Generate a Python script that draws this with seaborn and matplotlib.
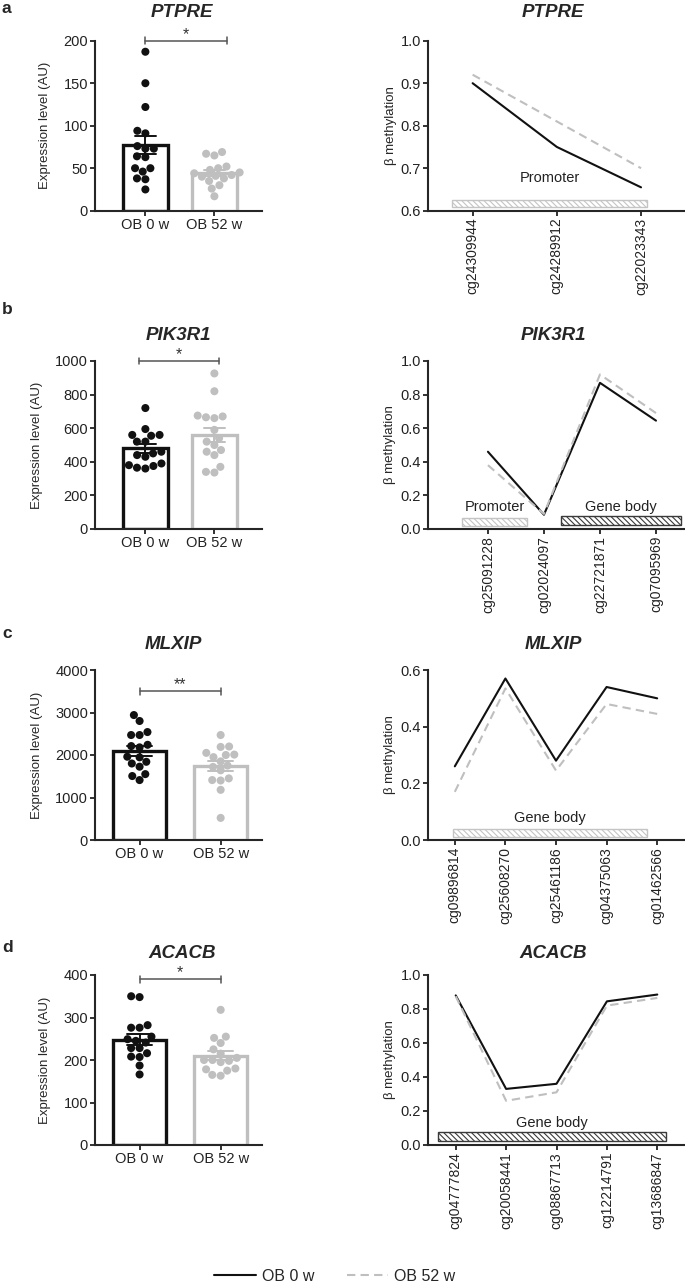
import numpy as np
import pandas as pd
import matplotlib
matplotlib.use('Agg')
import matplotlib.pyplot as plt
from matplotlib.patches import Rectangle
import seaborn as sns

# groups
groups = ['OB 0 w', 'OB 52 w']
genes = ['PTPRE', 'PIK3R1', 'MLXIP', 'ACACB']

# expression level (AU), one value per subject
ptpre_0w = [187, 150, 122, 94, 91, 76, 73, 73, 64, 63, 50, 50, 46, 38, 37, 25]
ptpre_52w = [69, 67, 65, 52, 50, 48, 45, 44, 42, 41, 40, 38, 35, 30, 26, 17]
pik3r1_0w = [720, 595, 560, 560, 555, 520, 520, 460, 450, 440, 430, 380, 375, 390, 365, 360]
pik3r1_52w = [926, 820, 675, 670, 665, 660, 590, 540, 520, 500, 470, 460, 440, 370, 340, 336]
mlxip_0w = [2940, 2800, 2540, 2470, 2470, 2240, 2210, 2180, 1960, 1945, 1840, 1800, 1725, 1550, 1505, 1410]
mlxip_52w = [2470, 2200, 2190, 2050, 2010, 2000, 1950, 1850, 1750, 1720, 1640, 1450, 1410, 1400, 1180, 520]
acacb_0w = [350, 348, 282, 276, 276, 255, 249, 245, 241, 228, 228, 216, 208, 207, 187, 166]
acacb_52w = [318, 255, 252, 240, 225, 215, 205, 200, 198, 200, 195, 180, 178, 175, 165, 163]

stars = ['*', '*', '**', '*']

# CpG probes and mean beta methylation
cg_ptpre = ['cg24309944', 'cg24289912', 'cg22023343']
meth_ptpre_0w = [0.90, 0.75, 0.655]
meth_ptpre_52w = [0.92, 0.81, 0.70]
cg_pik3r1 = ['cg25091228', 'cg02024097', 'cg22721871', 'cg07095969']
meth_pik3r1_0w = [0.46, 0.085, 0.87, 0.645]
meth_pik3r1_52w = [0.38, 0.09, 0.92, 0.69]
cg_mlxip = ['cg09896814', 'cg25608270', 'cg25461186', 'cg04375063', 'cg01462566']
meth_mlxip_0w = [0.26, 0.57, 0.28, 0.54, 0.50]
meth_mlxip_52w = [0.17, 0.535, 0.245, 0.48, 0.445]
cg_acacb = ['cg04777824', 'cg20058441', 'cg08867713', 'cg12214791', 'cg13686847']
meth_acacb_0w = [0.88, 0.33, 0.36, 0.845, 0.885]
meth_acacb_52w = [0.875, 0.26, 0.31, 0.82, 0.865]

# gene regions drawn under the lines: (label, first probe, last probe, dark?)
regions_ptpre = [('Promoter', -0.24, 2.07, False)]
regions_pik3r1 = [('Promoter', -0.46, 0.69, False), ('Gene body', 1.31, 3.45, True)]
regions_mlxip = [('Gene body', -0.04, 3.8, False)]
regions_acacb = [('Gene body', -0.35, 4.18, True)]

black = '#111111'
grey = '#bfbfbf'
pal = dict(zip(groups, [black, grey]))

sns.set_style('ticks')
plt.rcParams['font.family'] = ['Liberation Sans', 'DejaVu Sans']
plt.rcParams['axes.linewidth'] = 1.5
plt.rcParams['hatch.linewidth'] = 0.8

W, H = 685.0, 1284.0
fig = plt.figure(figsize=(W / 100, H / 100), dpi=100)


def px_axes(x0, top, x1, bottom):
    return fig.add_axes([x0 / W, 1 - bottom / H, (x1 - x0) / W, (bottom - top) / H])


def bar_panel(ax, v0, v52, ymax, ystep, xlim, bracket, ybr, star):
    df = pd.DataFrame({'group': [groups[0]] * len(v0) + [groups[1]] * len(v52),
                       'value': v0 + v52})
    for g in groups:
        sns.barplot(data=df[df.group == g], x='group', y='value', order=groups,
                    color=pal[g], fill=False, width=0.65, linewidth=2.4,
                    errorbar='se', capsize=0.3,
                    err_kws={'color': pal[g], 'linewidth': 1.4}, ax=ax)
    sns.swarmplot(data=df, x='group', y='value', order=groups, hue='group',
                  palette=pal, size=5.8, legend=False, ax=ax, zorder=3)
    ax.set_xlim(*xlim)
    ax.set_ylim(0, ymax)
    ax.set_yticks(np.arange(0, ymax + 1, ystep))
    ax.set_xlabel('')
    ax.set_ylabel('Expression level (AU)', fontsize=9.5, labelpad=9)
    # significance bracket
    d = ymax * 0.02
    kw = dict(color='#555555', lw=1.1, clip_on=False)
    ax.plot([bracket[0], bracket[1]], [ybr, ybr], **kw)
    ax.plot([bracket[0], bracket[0]], [ybr - d, ybr + d], **kw)
    ax.plot([bracket[1], bracket[1]], [ybr - d, ybr + d], **kw)
    ax.annotate(star, xy=(np.mean(bracket), ybr), xytext=(0, -1),
                textcoords='offset points', ha='center', va='bottom',
                fontsize=11.5, color='#333333', annotation_clip=False)


def meth_panel(ax, probes, m0, m52, ylim, ystep, xlim, regions, ytext):
    n = len(probes)
    df = pd.DataFrame({'probe': list(range(n)) * 2, 'beta': m0 + m52,
                       'group': [groups[0]] * n + [groups[1]] * n})
    sns.lineplot(data=df, x='probe', y='beta', hue='group', style='group',
                 palette=pal, dashes={groups[0]: '', groups[1]: (4, 2.5)},
                 linewidth=1.5, legend=False, ax=ax)
    for label, x0, x1, dark in regions:
        ec = '#3a3a3a' if dark else '#c4c4c4'
        h = (ylim[1] - ylim[0])
        y0 = ylim[0] + h * (0.02 if not dark else 0.025)
        hh = h * (0.05 if dark else 0.045)
        ax.add_patch(Rectangle((x0, y0), x1 - x0, hh, facecolor='white',
                               edgecolor=ec, lw=1.0, hatch='\\' * 6, zorder=1))
        ax.text((x0 + x1) / 2, ytext, label, ha='center', va='center',
                fontsize=10.5, color='#222222')
    ax.set_xticks(range(n))
    ax.set_xticklabels(probes, rotation=90)
    ax.set_xlim(*xlim)
    ax.set_ylim(*ylim)
    ax.set_yticks(np.round(np.arange(ylim[0], ylim[1] + 1e-9, ystep), 2))
    ax.yaxis.set_major_formatter(matplotlib.ticker.FormatStrFormatter('%.1f'))
    ax.set_xlabel('')
    ax.set_ylabel('\u03b2 methylation', fontsize=9.5, labelpad=3)


tops = [40.7, 361, 670, 975]
bottoms = [210.7, 529, 840, 1145]

left_axes = [px_axes(95, t, 262, b) for t, b in zip(tops, bottoms)]
right_axes = [px_axes(428, t, 684, b) for t, b in zip(tops, bottoms)]

bar_panel(left_axes[0], ptpre_0w, ptpre_52w, 200, 50, (-0.73, 1.69), (0, 1.18), 200, stars[0])
bar_panel(left_axes[1], pik3r1_0w, pik3r1_52w, 1000, 200, (-0.73, 1.69), (-0.09, 1.07), 1000, stars[1])
bar_panel(left_axes[2], mlxip_0w, mlxip_52w, 4000, 1000, (-0.55, 1.51), (0, 1), 3500, stars[2])
bar_panel(left_axes[3], acacb_0w, acacb_52w, 400, 100, (-0.55, 1.51), (0, 1), 390, stars[3])

meth_panel(right_axes[0], cg_ptpre, meth_ptpre_0w, meth_ptpre_52w, (0.6, 1.0), 0.1,
           (-0.53, 2.51), regions_ptpre, 0.677)
meth_panel(right_axes[1], cg_pik3r1, meth_pik3r1_0w, meth_pik3r1_52w, (0.0, 1.0), 0.2,
           (-1.07, 3.5), regions_pik3r1, 0.13)
meth_panel(right_axes[2], cg_mlxip, meth_mlxip_0w, meth_mlxip_52w, (0.0, 0.6), 0.2,
           (-0.53, 4.53), regions_mlxip, 0.078)
meth_panel(right_axes[3], cg_acacb, meth_acacb_0w, meth_acacb_52w, (0.0, 1.0), 0.2,
           (-0.55, 4.53), regions_acacb, 0.13)

for ax in left_axes + right_axes:
    sns.despine(ax=ax)
    ax.tick_params(length=3.5, width=1.3, pad=1.5, labelsize=10.5, colors='#222222')
for ax in right_axes:
    ax.tick_params(axis='x', labelsize=10)

# titles and panel letters
title_y = [17, 340, 649, 958]
left_x = [182, 178, 173, 182]
for gene, ty, lx in zip(genes, title_y, left_x):
    fig.text(lx / W, 1 - ty / H, gene, ha='center', va='baseline',
             fontsize=13.5, fontweight='bold', fontstyle='italic')
    fig.text(553 / W, 1 - ty / H, gene, ha='center', va='baseline',
             fontsize=13.5, fontweight='bold', fontstyle='italic')
for letter, ly in zip('abcd', [13, 314, 638, 952]):
    fig.text(2 / W, 1 - ly / H, letter, ha='left', va='baseline',
             fontsize=12.5, fontweight='bold')

handles = right_axes[3].get_lines()[:2]
fig.legend(handles, groups, loc='center', bbox_to_anchor=(0.489, 0.0058), ncol=2,
           frameon=False, fontsize=11.5, handlelength=2.6, handletextpad=0.4,
           columnspacing=2.0, borderpad=0.1)

fig.savefig('out.png', dpi=100)
